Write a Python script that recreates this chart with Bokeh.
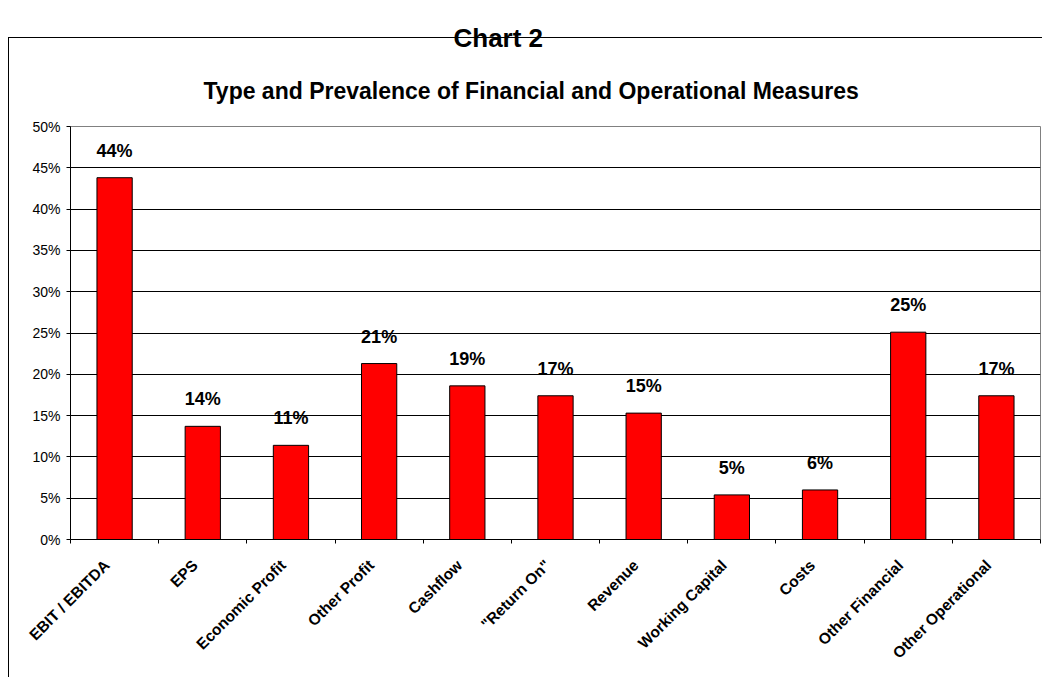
from bokeh.plotting import figure
from bokeh.models import (ColumnDataSource, LabelSet, Title, Range1d, LinearAxis,
                          FixedTicker, PrintfTickFormatter)
from bokeh.core.properties import value
from bokeh.embed import file_html
from bokeh.resources import INLINE
import math

# Share of plans using each performance measure (%)
categories = ["EBIT / EBITDA", "EPS", "Economic Profit", "Other Profit", "Cashflow",
              "\"Return On\"", "Revenue", "Working Capital", "Costs",
              "Other Financial", "Other Operational"]
prevalence = [43.8, 13.7, 11.4, 21.3, 18.6, 17.4, 15.3, 5.4, 6.0, 25.1, 17.4]
y_ticks = [0, 5, 10, 15, 20, 25, 30, 35, 40, 45, 50]

FONT = "Liberation Sans"
W, H = 1042, 677
LEFT, TOP, BOTTOM = 70, 126, 138   # plot-area margins in pixels

xs = [i + 0.5 for i in range(len(categories))]
src = ColumnDataSource(dict(
    x=xs, top=prevalence,
    label=[f"{round(v):d}%" for v in prevalence],
))

p = figure(width=W, height=H, output_backend="svg", toolbar_location=None,
           x_range=Range1d(0, len(categories)), y_range=Range1d(0, 50),
           min_border_left=LEFT, min_border_right=2, min_border_top=TOP,
           min_border_bottom=BOTTOM)
p.background_fill_color = "white"
p.border_fill_color = None
p.outline_line_color = "#808080"
p.outline_line_width = 1
# thin black chart box behind the canvas (left and top edges)
p.styles = {
    "background": ("linear-gradient(#000,#000) 8px 37px / 1px 700px no-repeat, "
                   "linear-gradient(#000,#000) 8px 37px / 1100px 1px no-repeat, #fff"),
}

p.vbar(x="x", top="top", width=0.4, bottom=0, source=src,
       fill_color="#FF0000", line_color="black", line_width=1)

p.add_layout(LabelSet(x="x", y="top", text="label", source=src,
                      text_align="center", text_baseline="bottom", y_offset=17,
                      text_font=value(FONT), text_font_style="bold",
                      text_font_size="18px", text_color="black"))

# y axis: percentages with outward ticks
p.yaxis.ticker = FixedTicker(ticks=y_ticks)
p.yaxis.formatter = PrintfTickFormatter(format="%d%%")
p.yaxis.major_tick_in = 0
p.yaxis.major_tick_out = 4
p.yaxis.minor_tick_out = 0
p.yaxis.minor_tick_in = 0
p.yaxis.axis_line_color = "black"
p.yaxis.major_tick_line_color = "black"
p.yaxis.major_label_text_font = FONT
p.yaxis.major_label_text_font_size = "14px"
p.yaxis.major_label_text_color = "black"
p.yaxis.major_label_standoff = 6

# x axis: slanted names under the bars, small ticks between categories
label_pos = [x - 0.09 for x in xs]
p.xaxis.ticker = FixedTicker(ticks=label_pos, minor_ticks=list(range(len(categories) + 1)))
p.xaxis.major_label_overrides = {x: c for x, c in zip(label_pos, categories)}
p.xaxis.major_label_orientation = math.pi / 4
p.xaxis.major_tick_in = 0
p.xaxis.major_tick_out = 0
p.xaxis.minor_tick_in = 0
p.xaxis.minor_tick_out = 4
p.xaxis.minor_tick_line_color = "black"
p.xaxis.axis_line_color = "black"
p.xaxis.major_label_text_font = FONT
p.xaxis.major_label_text_font_style = "bold"
p.xaxis.major_label_text_font_size = "15.5px"
p.xaxis.major_label_text_color = "black"
p.xaxis.major_label_standoff = 19

p.xgrid.grid_line_color = None
p.ygrid.ticker = FixedTicker(ticks=y_ticks)
p.ygrid.grid_line_color = "black"
p.ygrid.grid_line_width = 1

# blank strip between the plot area and the chart title
gap = LinearAxis(ticker=FixedTicker(ticks=[]), axis_line_color=None,
                 major_tick_in=0, major_tick_out=20, minor_tick_in=0, minor_tick_out=0,
                 major_tick_line_color=None, minor_tick_line_color=None,
                 major_label_standoff=0, major_label_text_font_size="0px")
p.add_layout(gap, "above")

# titles: chart title inside the box, "Chart 2" above the box
p.add_layout(Title(text="Type and Prevalence of Financial and Operational Measures",
                   align="left", offset=133, standoff=42, vertical_align="top",
                   text_font=FONT, text_font_style="bold", text_font_size="23px",
                   text_color="black"), "above")
p.add_layout(Title(text="Chart 2", align="left", offset=383, standoff=4,
                   vertical_align="top",
                   text_font=FONT, text_font_style="bold", text_font_size="26px",
                   text_color="black"), "above")

open("out.html", "w").write(file_html(p, INLINE))
